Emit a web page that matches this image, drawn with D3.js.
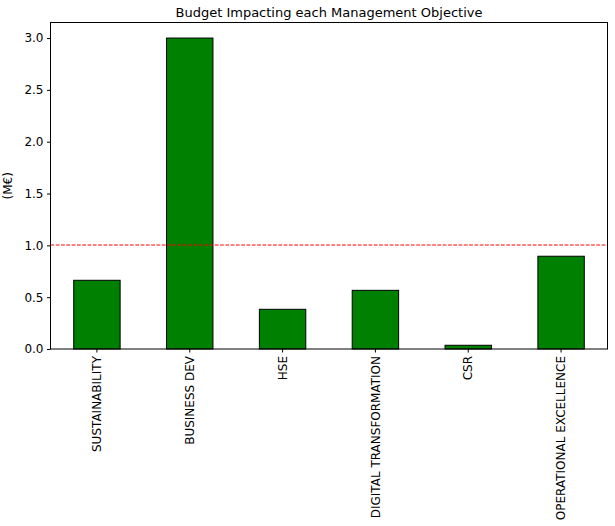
<!DOCTYPE html>
<html>
<head>
  <meta charset="utf-8">
  <script src="https://d3js.org/d3.v7.min.js"></script>
  <style>
    body { margin: 0; background: #fff; }
    text { font-family: "DejaVu Sans", sans-serif; fill: #000; }
  </style>
</head>
<body>
  <div id="chart"></div>

  <script>
    var categories = ["SUSTAINABILITY", "BUSINESS DEV", "HSE", "DIGITAL TRANSFORMATION", "CSR", "OPERATIONAL EXCELLENCE"];
    var budget = [0.663, 3.0, 0.383, 0.566, 0.036, 0.895];
    var yTicks = [0.0, 0.5, 1.0, 1.5, 2.0, 2.5, 3.0];
    var threshold = 1.0;

    var width = 615, height = 526;
    var margin = { top: 22.5, right: 7.5, bottom: 177, left: 50.5 };
    var innerW = width - margin.left - margin.right;
    var innerH = height - margin.top - margin.bottom;

    var svg = d3.select("#chart")
      .append("svg")
      .attr("width", width)
      .attr("height", height);

    var g = svg.append("g")
      .attr("transform", "translate(" + margin.left + "," + margin.top + ")");

    var x = d3.scaleBand()
      .domain(categories)
      .range([0, innerW])
      .paddingInner(0.5)
      .paddingOuter(0.25);

    var y = d3.scaleLinear()
      .domain([0, 3.15])
      .range([innerH, 0]);

    // bars
    g.selectAll("rect.bar")
      .data(categories)
      .enter()
      .append("rect")
      .attr("class", "bar")
      .attr("x", function(d) { return x(d); })
      .attr("y", function(d, i) { return y(budget[i]); })
      .attr("width", x.bandwidth())
      .attr("height", function(d, i) { return y(0) - y(budget[i]); })
      .attr("fill", "#008000")
      .attr("stroke", "#000")
      .attr("stroke-width", 1);

    // threshold line (snapped to a pixel row so it stays crisp red)
    var ty = Math.round(y(threshold) + margin.top) - margin.top;
    g.append("line")
      .attr("x1", 0)
      .attr("x2", innerW)
      .attr("y1", ty)
      .attr("y2", ty)
      .attr("stroke", "#ff0000")
      .attr("stroke-width", 1)
      .attr("stroke-dasharray", "3.7,1.6");

    // axes
    var yAxis = d3.axisLeft(y)
      .tickValues(yTicks)
      .tickFormat(d3.format(".1f"))
      .tickSize(3.5)
      .tickPadding(3.5);

    var yg = g.append("g").call(yAxis);
    yg.select(".domain").remove();
    yg.selectAll("text").style("font-size", "12px").attr("font-family", null);

    var xAxis = d3.axisBottom(x)
      .tickSize(3.5)
      .tickPadding(3.5);

    var xg = g.append("g")
      .attr("transform", "translate(0," + innerH + ")")
      .call(xAxis);
    xg.select(".domain").remove();
    xg.selectAll("text")
      .style("font-size", "12px")
      .attr("font-family", null)
      .attr("text-anchor", "end")
      .attr("dy", "0.35em")
      .attr("transform", "rotate(-90)")
      .attr("x", -7)
      .attr("y", 0);

    // frame
    g.append("rect")
      .attr("width", innerW)
      .attr("height", innerH)
      .attr("fill", "none")
      .attr("stroke", "#000")
      .attr("stroke-width", 1);

    // title
    svg.append("text")
      .attr("x", margin.left + innerW / 2)
      .attr("y", 17)
      .attr("text-anchor", "middle")
      .style("font-size", "13px")
      .text("Budget Impacting each Management Objective");

    // y label
    svg.append("text")
      .attr("transform", "translate(12," + (margin.top + innerH / 2) + ") rotate(-90)")
      .attr("text-anchor", "middle")
      .style("font-size", "12px")
      .text("(M€)");
  </script>
</body>
</html>
